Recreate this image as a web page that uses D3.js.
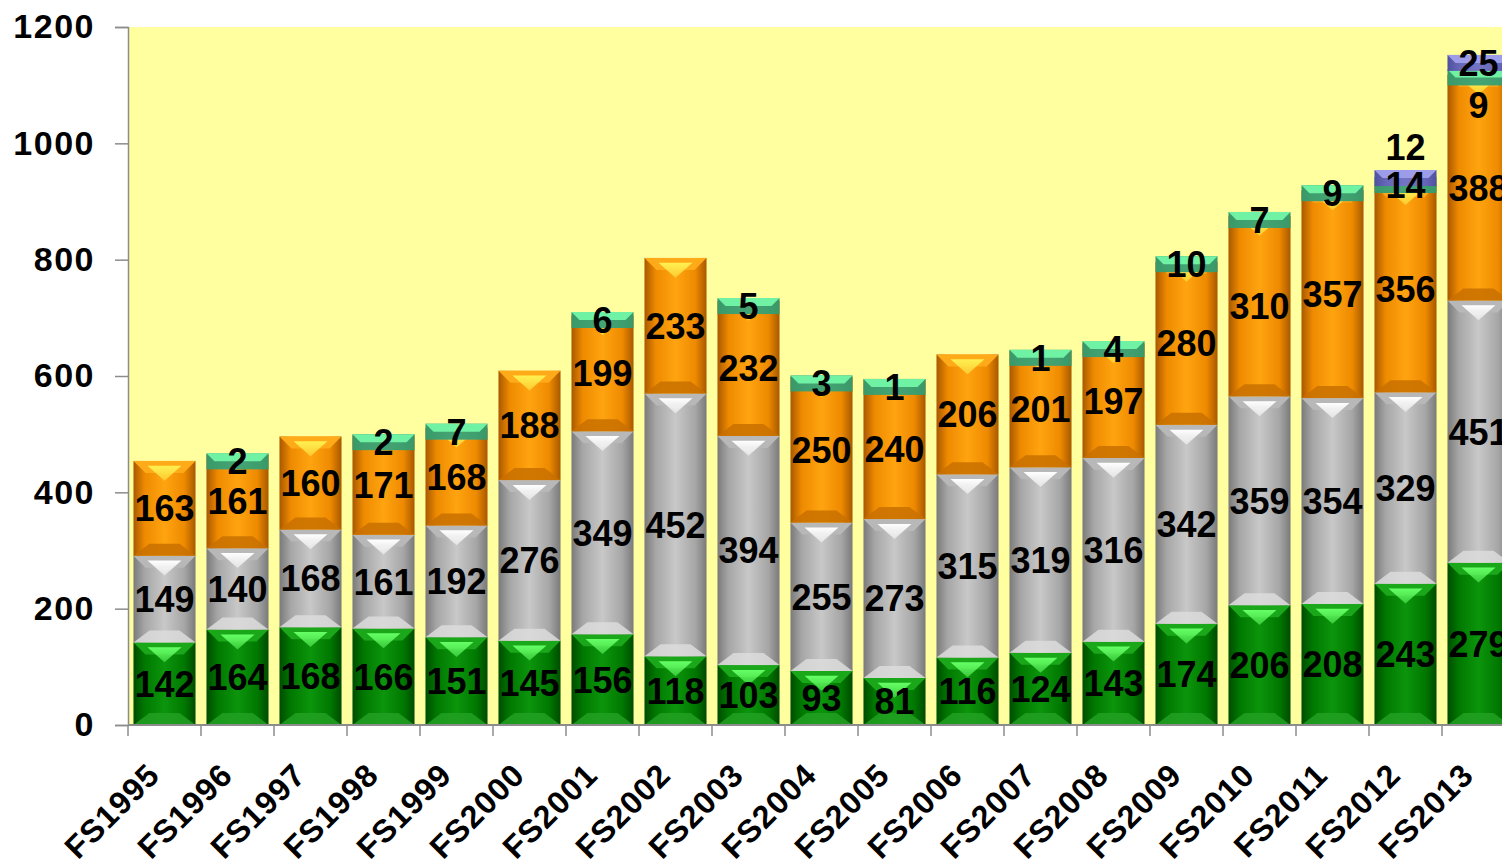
<!DOCTYPE html>
<html>
<head>
<meta charset="utf-8">
<script src="https://cdn.jsdelivr.net/npm/d3@7"></script>
<style>
  body { margin: 0; background: #fff; overflow: hidden; }
  text { font-family: "Liberation Sans", Arial, sans-serif; font-weight: bold; }
</style>
</head>
<body>
<div id="chart"></div>
<script>
// fiscal years on the x axis
var categories = ["FS1995", "FS1996", "FS1997", "FS1998", "FS1999", "FS2000", "FS2001",
  "FS2002", "FS2003", "FS2004", "FS2005", "FS2006", "FS2007", "FS2008", "FS2009",
  "FS2010", "FS2011", "FS2012", "FS2013"];

// stacked series, bottom to top
var greenVals  = [142, 164, 168, 166, 151, 145, 156, 118, 103, 93, 81, 116, 124, 143, 174, 206, 208, 243, 279];
var grayVals   = [149, 140, 168, 161, 192, 276, 349, 452, 394, 255, 273, 315, 319, 316, 342, 359, 354, 329, 451];
var orangeVals = [163, 161, 160, 171, 168, 188, 199, 233, 232, 250, 240, 206, 201, 197, 280, 310, 357, 356, 388];
var tealVals   = [0, 2, 0, 2, 7, 0, 6, 0, 5, 3, 1, 0, 1, 4, 10, 7, 9, 14, 9];
var purpleVals = [0, 0, 0, 0, 0, 0, 0, 0, 0, 0, 0, 0, 0, 0, 0, 0, 0, 12, 25];

var yTicks = [0, 200, 400, 600, 800, 1000, 1200];

var W = 1502, H = 867;
var mLeft = 128, mTop = 27, mBottom = 725;

var svg = d3.select("#chart").append("svg")
    .attr("width", W)
    .attr("height", H);

var keys = ["green", "gray", "orange", "teal", "purple"];
var rows = categories.map(function (c, i) {
  return { cat: c, green: greenVals[i], gray: grayVals[i], orange: orangeVals[i],
           teal: tealVals[i], purple: purpleVals[i] };
});
var series = d3.stack().keys(keys)(rows);

var x = d3.scaleBand()
    .domain(categories)
    .range([mLeft, mLeft + 73 * categories.length])
    .paddingInner(0.15)
    .paddingOuter(0.075);

var y = d3.scaleLinear().domain([0, 1200]).range([mBottom, mTop]);

// colours for the bevelled look
var pal = {
  green:  { edge: "#004c00", mid: "#007800", light: "#0c950c", topc: "#1aa81a", hi: "#66ff66", bot: "#22a022" },
  gray:   { edge: "#7a7a7a", mid: "#a6a6a6", light: "#c8c8c8", topc: "#b8b8b8", hi: "#ffffff", bot: "#dcdcdc" },
  orange: { edge: "#a85800", mid: "#ee8a00", light: "#ffa410", topc: "#ffaa18", hi: "#fff050", bot: "#c87000" },
  teal:   { edge: "#3a9868", mid: "#3e9e6e", light: "#44a474", topc: "#70f2a4", hi: "#80ffb0", bot: "#3a9868" },
  purple: { edge: "#5050a0", mid: "#6666b8", light: "#7474c4", topc: "#9c9ce8", hi: "#aaaaf0", bot: "#5a5aa8" }
};
var tiny = { teal: true, purple: true };

var defs = svg.append("defs");
keys.forEach(function (k) {
  var g = defs.append("linearGradient").attr("id", "grad-" + k)
      .attr("x1", "0%").attr("x2", "100%").attr("y1", "0%").attr("y2", "0%");
  [[0, "edge"], [0.18, "mid"], [0.5, "light"], [0.82, "mid"], [1, "edge"]].forEach(function (s) {
    g.append("stop").attr("offset", s[0]).attr("stop-color", pal[k][s[1]]);
  });
  var hg = defs.append("linearGradient").attr("id", "hi-" + k)
      .attr("x1", "0%").attr("x2", "0%").attr("y1", "0%").attr("y2", "100%");
  hg.append("stop").attr("offset", 0).attr("stop-color", pal[k].hi).attr("stop-opacity", 1);
  hg.append("stop").attr("offset", 1).attr("stop-color", pal[k].hi).attr("stop-opacity", 0.5);
});

// plot background
svg.append("rect")
    .attr("x", mLeft).attr("y", mTop)
    .attr("width", W - mLeft).attr("height", mBottom - mTop)
    .attr("fill", "#ffffa0");

// work out drawn boxes (tiny series get a minimum bevel thickness)
var boxes = [];
series.forEach(function (s) {
  s.forEach(function (d, i) {
    var v = d[1] - d[0];
    if (v <= 0) return;
    var y1 = y(d[1]), h = y(d[0]) - y1;
    if (tiny[s.key]) h = Math.max(h, 16);
    boxes.push({ key: s.key, i: i, cat: d.data.cat, v: v, x: x(d.data.cat), y: y1, h: h });
  });
});

var w = x.bandwidth();
var bars = svg.append("g").selectAll("g").data(boxes).join("g")
    .attr("transform", function (b) { return "translate(" + b.x + "," + b.y + ")"; });

bars.append("rect")
    .attr("width", w)
    .attr("height", function (b) { return b.h; })
    .attr("fill", function (b) { return "url(#grad-" + b.key + ")"; });

// top bevel
bars.append("polygon")
    .attr("points", function (b) {
      var d = tiny[b.key] ? b.h / 2 : Math.min(12, b.h / 2);
      return [[0, 0], [w, 0], [w - d, d], [d, d]].join(" ");
    })
    .attr("fill", function (b) { return pal[b.key].topc; });

// highlight triangle under the top edge
bars.filter(function (b) { return !tiny[b.key]; }).append("polygon")
    .attr("points", function (b) {
      var d = Math.min(12, b.h / 2);
      return [[w / 2 - 17, d * 0.4], [w / 2 + 17, d * 0.4], [w / 2, d * 0.4 + 15]].join(" ");
    })
    .attr("fill", function (b) { return "url(#hi-" + b.key + ")"; });

// bottom bevel
bars.filter(function (b) { return !tiny[b.key]; }).append("polygon")
    .attr("points", function (b) {
      var d = Math.min(12, b.h / 2);
      return [[0, b.h], [w, b.h], [w - d - 4, b.h - d], [d + 4, b.h - d]].join(" ");
    })
    .attr("fill", function (b) { return pal[b.key].bot; })
    .attr("opacity", 0.85);

// axes
var yAxis = d3.axisLeft(y).tickValues(yTicks).tickSize(13).tickPadding(20).tickFormat(d3.format("d"));
var gy = svg.append("g").attr("transform", "translate(" + mLeft + ",0)").call(yAxis);
gy.select(".domain").attr("stroke", "#8c8c8c").attr("stroke-width", 1.5);
gy.selectAll(".tick line").attr("stroke", "#8c8c8c").attr("stroke-width", 1.5);
gy.selectAll(".tick text").attr("font-size", 34).attr("fill", "#000")
    .attr("letter-spacing", 1.5)
    .style("font-family", "'Liberation Sans', Arial, sans-serif").style("font-weight", "bold");

svg.append("line")
    .attr("x1", mLeft).attr("x2", W).attr("y1", mBottom).attr("y2", mBottom)
    .attr("stroke", "#8c8c8c").attr("stroke-width", 2);

var gap = (x.step() - x.bandwidth()) / 2;
svg.append("g").selectAll("line").data(categories).join("line")
    .attr("x1", function (c) { return x(c) - gap; })
    .attr("x2", function (c) { return x(c) - gap; })
    .attr("y1", mBottom).attr("y2", mBottom + 11)
    .attr("stroke", "#8c8c8c").attr("stroke-width", 1.5);

svg.append("g").selectAll("text").data(categories).join("text")
    .attr("transform", function (c) {
      return "translate(" + (x(c) + w / 2 - 3) + "," + (mBottom + 52) + ") rotate(-45)";
    })
    .attr("text-anchor", "end")
    .attr("font-size", 32)
    .attr("letter-spacing", 1)
    .text(function (c) { return c; });

// data labels
function labelY(b) {
  var yc = b.y + b.h / 2;
  if (tiny[b.key]) {
    var other = boxes.find(function (o) { return o.i === b.i && o.key !== b.key && tiny[o.key]; });
    if (other && b.v < other.v) {
      // the smaller one is moved out of the way
      if (b.key === "purple") return b.y - 23;
      return b.y + b.h + 20;
    }
  }
  return yc;
}

svg.append("g").selectAll("text").data(boxes).join("text")
    .attr("x", function (b) { return b.x + w / 2; })
    .attr("y", function (b) { return labelY(b); })
    .attr("dy", "0.36em")
    .attr("text-anchor", "middle")
    .attr("font-size", 36)
    .attr("fill", "#000")
    .text(function (b) { return b.v; });
</script>
</body>
</html>
